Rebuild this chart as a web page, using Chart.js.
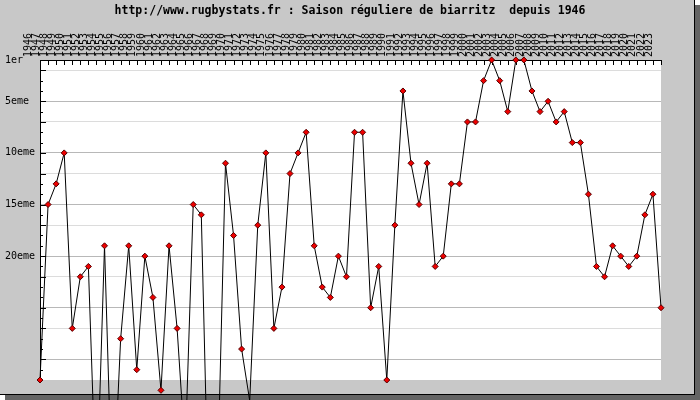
<!DOCTYPE html>
<html lang="fr">
  <head>
    <meta charset="UTF-8" />
    <title>Saison réguliere de biarritz depuis 1946</title>
    <script src="https://cdn.jsdelivr.net/npm/chart.js"></script>
    <style>
      html,
      body {
        margin: 0;
        padding: 0;
        background: #fff;
      }
      canvas {
        display: block;
      }
    </style>
  </head>
  <body>
    <canvas id="graph" width="700" height="400"></canvas>

    <script>
      const years = [
        "1946", "1947", "1948", "1949", "1950", "1951", "1952", "1953", "1954", "1955",
        "1956", "1957", "1958", "1959", "1960", "1961", "1962", "1963", "1964", "1965",
        "1966", "1967", "1968", "1969", "1970", "1971", "1972", "1973", "1974", "1975",
        "1976", "1977", "1978", "1979", "1980", "1981", "1982", "1983", "1984", "1985",
        "1986", "1987", "1988", "1989", "1990", "1991", "1992", "1993", "1994", "1995",
        "1996", "1997", "1998", "1999", "2000", "2001", "2002", "2003", "2004", "2005",
        "2006", "2007", "2008", "2009", "2010", "2011", "2012", "2013", "2014", "2015",
        "2016", "2017", "2018", "2019", "2020", "2021", "2022", "2023",
      ];

      // classement (1 = premier), valeurs > 32 sortent du cadre
      const ranks = [
        32, 15, 13, 10, 27, 22, 21, 44, 19, 45,
        28, 19, 31, 20, 24, 33, 19, 27, 39, 15,
        16, 48, 42, 11, 18, 29, 34, 17, 10, 27,
        23, 12, 10, 8, 19, 23, 24, 20, 22, 8,
        8, 25, 21, 32, 17, 4, 11, 15, 11, 21,
        20, 13, 13, 7, 7, 3, 1, 3, 6, 1,
        1, 4, 6, 5, 7, 6, 9, 9, 14, 21,
        22, 19, 20, 21, 20, 16, 14, 25,
      ];

      const rankTicks = [1, 5, 10, 15, 20];
      const rankLabels = ["1er", "5eme", "10eme", "15eme", "20eme"];
      const darkGrid = [5, 10, 15, 20, 25, 30];
      const lightGrid = [2, 7, 12, 17, 22, 27];
      const titleText =
        "http://www.rugbystats.fr : Saison réguliere de biarritz  depuis 1946";

      const frame = {
        id: "frame",
        beforeDraw(chart) {
          const { ctx, chartArea: a } = chart;
          ctx.save();
          // ombre + cadre
          ctx.fillStyle = "#646464";
          ctx.fillRect(5, 5, 695, 395);
          ctx.fillStyle = "#c8c8c8";
          ctx.fillRect(0, 0, 694, 394);
          ctx.fillStyle = "#000";
          ctx.fillRect(694, 0, 1, 395);
          ctx.fillRect(0, 394, 695, 1);
          ctx.fillStyle = "#fff";
          ctx.fillRect(a.left, a.top, a.right - a.left, a.bottom - a.top);

          ctx.font = "bold 11.5px 'DejaVu Sans Mono'";
          ctx.fillStyle = "#000";
          ctx.textAlign = "center";
          ctx.textBaseline = "middle";
          ctx.fillText(titleText, 350, 11);
          ctx.restore();
        },
        beforeDatasetsDraw(chart) {
          const { ctx, chartArea: a, scales } = chart;
          ctx.save();
          ctx.strokeStyle = "#000";
          ctx.lineWidth = 1;
          ctx.beginPath();
          // petites graduations sur l'axe de gauche, vers l'intérieur
          for (let r = 2; r < 32; r++) {
            const y = Math.round(scales.y.getPixelForValue(r)) + 0.5;
            const len = darkGrid.includes(r) || lightGrid.includes(r) ? 6 : 3;
            ctx.moveTo(a.left, y);
            ctx.lineTo(a.left + len, y);
          }
          // graduations en haut, une par saison
          years.forEach((_, i) => {
            const x = Math.round(scales.x.getPixelForValue(i)) + 0.5;
            ctx.moveTo(x, a.top);
            ctx.lineTo(x, a.top + 5);
          });
          ctx.stroke();
          ctx.restore();
        },
        afterDatasetsDraw(chart) {
          // les points juste sous le cadre restent visibles (comme 1961)
          const { ctx, chartArea: a } = chart;
          const wide = { left: 0, top: 0, right: chart.width, bottom: chart.height };
          chart.getDatasetMeta(0).data.forEach((pt) => {
            if (pt.y > a.bottom + 3 && pt.y < 394) pt.draw(ctx, wide);
          });
        },
      };

      new Chart(document.getElementById("graph"), {
        type: "line",
        data: {
          labels: years,
          datasets: [
            {
              data: ranks,
              borderColor: "#000",
              borderWidth: 1,
              tension: 0,
              pointStyle: "rectRot",
              pointRadius: 3,
              pointBackgroundColor: "#ee0000",
              pointBorderColor: "#550000",
              pointBorderWidth: 1,
              clip: false,
            },
          ],
        },
        plugins: [frame],
        options: {
          responsive: false,
          animation: false,
          events: [],
          layout: { padding: { left: 5, top: 0, right: 39, bottom: 20 } },
          plugins: {
            legend: { display: false },
            tooltip: { enabled: false },
          },
          scales: {
            x: {
              type: "category",
              position: "top",
              offset: false,
              grid: { display: false, drawTicks: false },
              border: { display: true, color: "#000", width: 1 },
              ticks: {
                autoSkip: false,
                minRotation: 90,
                maxRotation: 90,
                padding: 3,
                color: "#000",
                font: { family: "DejaVu Sans Mono", size: 10 },
              },
              afterFit(scale) {
                scale.height = 60;
              },
            },
            y: {
              type: "linear",
              reverse: true,
              min: 1,
              max: 32,
              afterBuildTicks(scale) {
                const vals = [1, ...darkGrid, ...lightGrid].sort((p, q) => p - q);
                scale.ticks = vals.map((v) => ({ value: v }));
              },
              grid: {
                drawTicks: false,
                color: (c) => {
                  const v = c.tick && c.tick.value;
                  if (darkGrid.includes(v)) return "#b8b8b8";
                  if (lightGrid.includes(v)) return "#dcdcdc";
                  return "rgba(0,0,0,0)";
                },
              },
              border: { display: true, color: "#000", width: 1 },
              ticks: {
                autoSkip: false,
                crossAlign: "far",
                color: "#000",
                font: { family: "DejaVu Sans Mono", size: 10 },
                callback: (v) => {
                  const i = rankTicks.indexOf(v);
                  return i >= 0 ? rankLabels[i] : "";
                },
              },
              afterFit(scale) {
                scale.width = 35;
              },
            },
          },
        },
      });
    </script>
  </body>
</html>
